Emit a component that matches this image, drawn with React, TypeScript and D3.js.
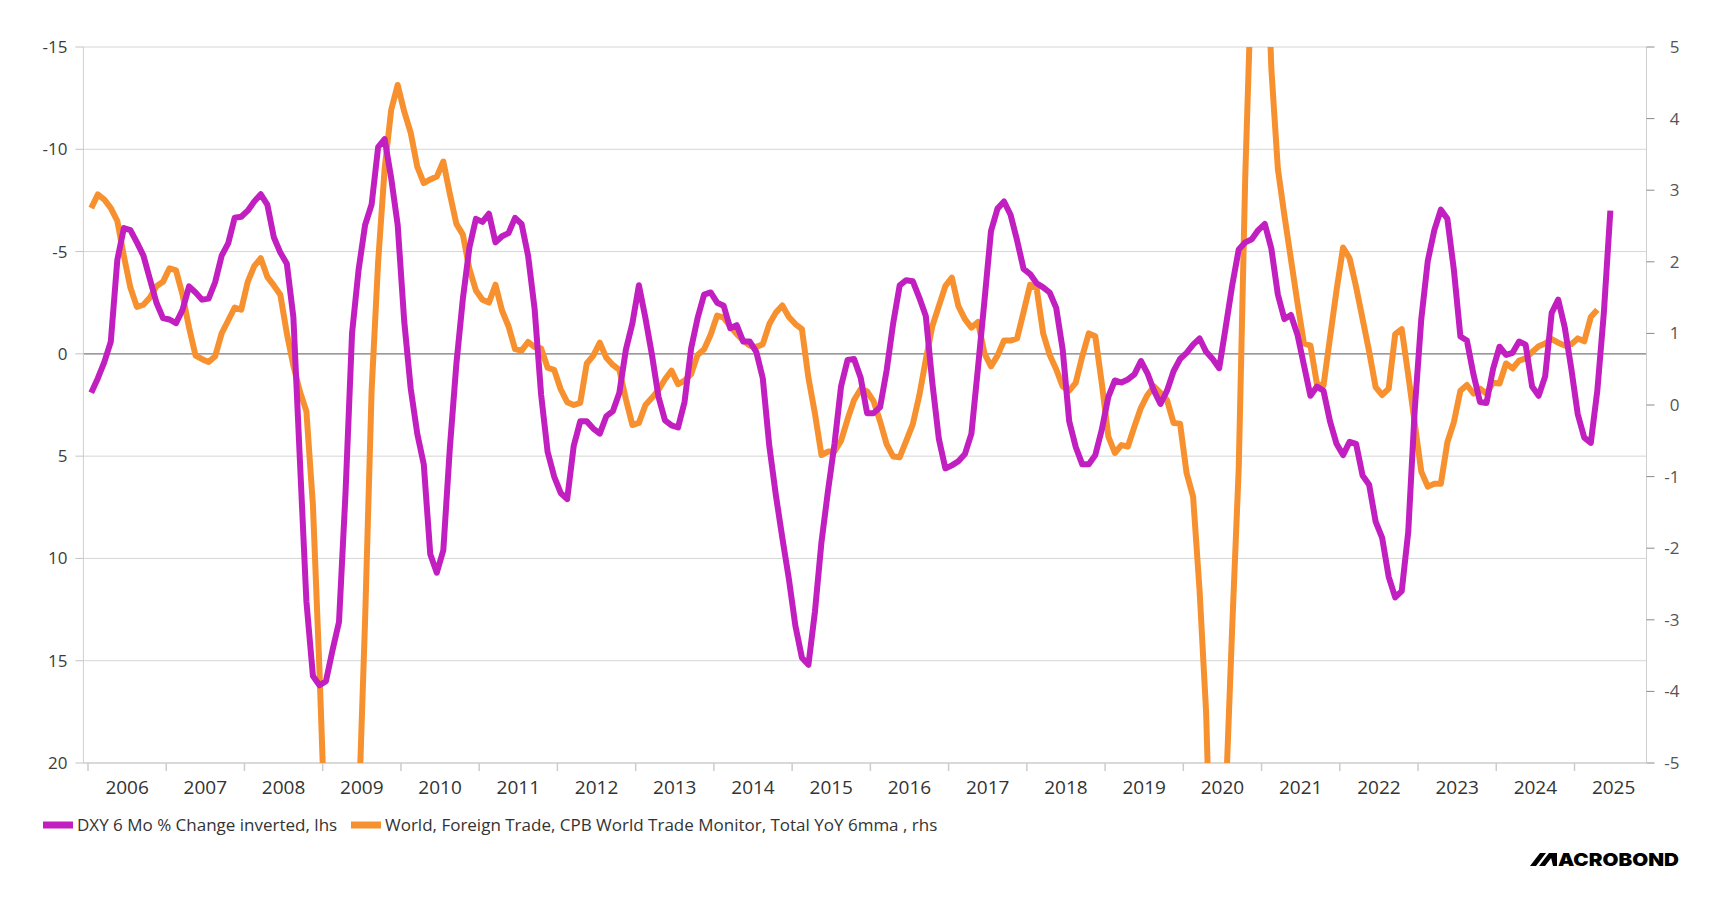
import { useEffect, useRef } from 'react';
import * as d3 from 'd3';

// monthly observations, first value = Jan 2006
const FIRST_YEAR = 2006;

// DXY 6 Mo % Change inverted (lhs, axis reversed)
const dxyChange: number[] = [
  1.9, 1.2, 0.4, -0.6, -4.6, -6.15, -6.05, -5.45, -4.8, -3.65, -2.5, -1.75,
  -1.68, -1.5, -2.15, -3.3, -3.0, -2.65, -2.7, -3.5, -4.8, -5.4, -6.65, -6.7,
  -7.0, -7.45, -7.8, -7.3, -5.7, -4.95, -4.4, -1.8, 5.2, 12.1, 15.75, 16.2,
  16.0, 14.5, 13.1, 6.8, -1.0, -4.1, -6.3, -7.3, -10.1, -10.5, -8.6, -6.3,
  -1.6, 1.7, 3.9, 5.4, 9.8, 10.7, 9.6, 4.6, 0.5, -2.7, -5.2, -6.6,
  -6.45, -6.85, -5.45, -5.75, -5.9, -6.65, -6.35, -4.8, -2.2, 2.0, 4.8, 6.0,
  6.8, 7.1, 4.5, 3.3, 3.3, 3.65, 3.9, 3.05, 2.8, 1.9, -0.2, -1.5,
  -3.35, -1.75, 0.05, 2.1, 3.25, 3.5, 3.6, 2.35, -0.25, -1.75, -2.9, -3.0,
  -2.5, -2.35, -1.25, -1.4, -0.6, -0.6, -0.1, 1.2, 4.5, 6.9, 9.0, 11.0,
  13.3, 14.85, 15.2, 12.6, 9.2, 6.7, 4.4, 1.6, 0.3, 0.25, 1.15, 2.9,
  2.9, 2.6, 0.8, -1.5, -3.35, -3.6, -3.55, -2.75, -1.85, 1.4, 4.15, 5.6,
  5.45, 5.25, 4.9, 3.9, 0.7, -2.6, -6.0, -7.1, -7.45, -6.8, -5.55, -4.15,
  -3.9, -3.45, -3.25, -3.0, -2.25, -0.2, 3.3, 4.55, 5.4, 5.4, 4.95, 3.7,
  2.1, 1.3, 1.4, 1.25, 1.0, 0.35, 0.95, 1.8, 2.45, 1.8, 0.85, 0.25,
  -0.05, -0.45, -0.75, -0.1, 0.25, 0.7, -1.3, -3.35, -5.1, -5.45, -5.6, -6.05,
  -6.35, -5.15, -2.9, -1.7, -1.9, -0.95, 0.55, 2.05, 1.6, 1.8, 3.3, 4.4,
  4.95, 4.3, 4.4, 5.95, 6.4, 8.2, 9.0, 10.9, 11.9, 11.6, 8.7, 2.7,
  -1.7, -4.55, -6.05, -7.05, -6.6, -4.1, -0.85, -0.65, 1.0, 2.35, 2.4, 0.75,
  -0.35, 0.05, -0.05, -0.6, -0.45, 1.6, 2.05, 1.1, -2.0, -2.65, -1.3, 0.7,
  2.95, 4.1, 4.35, 1.8, -2.0, -7.0,
];

// World, Foreign Trade, CPB World Trade Monitor, Total YoY 6mma (rhs)
const worldTrade: number[] = [
  2.75, 2.94, 2.87, 2.75, 2.57, 2.08, 1.64, 1.37, 1.4, 1.5, 1.66, 1.72,
  1.91, 1.88, 1.54, 1.08, 0.69, 0.64, 0.6, 0.68, 1.0, 1.18, 1.36, 1.33,
  1.72, 1.94, 2.05, 1.79, 1.67, 1.54, 1.0, 0.55, 0.19, -0.09, -1.4, -3.7,
  -6.3, -8.5, -10.0, -9.5, -7.5, -5.75, -3.0, 0.2, 2.0, 3.3, 4.12, 4.47,
  4.1, 3.8, 3.33, 3.1, 3.15, 3.19, 3.4, 2.95, 2.53, 2.38, 1.9, 1.6,
  1.47, 1.43, 1.68, 1.32, 1.1, 0.78, 0.76, 0.88, 0.81, 0.79, 0.52, 0.49,
  0.22, 0.04, 0.0, 0.03, 0.58, 0.69, 0.87, 0.66, 0.56, 0.49, 0.08, -0.28,
  -0.25, 0.0, 0.1, 0.21, 0.36, 0.48, 0.29, 0.34, 0.43, 0.7, 0.78, 0.98,
  1.25, 1.22, 1.1, 0.99, 0.9, 0.83, 0.81, 0.85, 1.13, 1.29, 1.39, 1.23,
  1.13, 1.06, 0.38, -0.12, -0.7, -0.65, -0.65, -0.5, -0.2, 0.07, 0.22, 0.19,
  0.05, -0.23, -0.55, -0.72, -0.73, -0.5, -0.27, 0.13, 0.63, 1.1, 1.38, 1.66,
  1.78, 1.38, 1.2, 1.08, 1.16, 0.72, 0.54, 0.69, 0.9, 0.9, 0.93, 1.3,
  1.68, 1.63, 1.0, 0.7, 0.5, 0.26, 0.2, 0.31, 0.68, 1.0, 0.96, 0.3,
  -0.44, -0.67, -0.56, -0.58, -0.3, -0.04, 0.14, 0.26, 0.17, 0.07, -0.25, -0.26,
  -0.95, -1.28, -2.6, -4.3, -7.5, -8.0, -5.5, -3.1, -0.88, 3.2, 6.1, 8.5,
  7.3, 4.7, 3.3, 2.65, 2.04, 1.43, 0.86, 0.83, 0.29, 0.27, 0.94, 1.6,
  2.2, 2.05, 1.65, 1.2, 0.75, 0.25, 0.14, 0.23, 0.99, 1.06, 0.42, -0.26,
  -0.93, -1.14, -1.1, -1.1, -0.52, -0.24, 0.2, 0.28, 0.16, 0.23, 0.16, 0.31,
  0.3, 0.58, 0.51, 0.62, 0.65, 0.74, 0.82, 0.86, 0.92, 0.87, 0.83, 0.85,
  0.93, 0.89, 1.23, 1.33,
];

const leftTicks = [-15, -10, -5, 0, 5, 10, 15, 20];
const rightTicks = [5, 4, 3, 2, 1, 0, -1, -2, -3, -4, -5];
const years = d3.range(2006, 2026);

const SERIES = [
  { name: 'DXY 6 Mo % Change inverted, lhs', color: '#c21fc1' },
  { name: 'World, Foreign Trade, CPB World Trade Monitor, Total YoY 6mma , rhs', color: '#f7912f' },
];

const W = 1719;
const H = 913;
const FONT = "'Open Sans', 'Noto Sans', sans-serif";

export default function App() {
  const svgRef = useRef<SVGSVGElement>(null);

  useEffect(() => {
    if (!svgRef.current) return;
    const svg = d3.select(svgRef.current);
    svg.selectAll('*').remove();

    const plot = { left: 83.4, right: 1646.5, top: 47, bottom: 763 };

    // ── Scales ──────────────────────────────────────────────
    const x = d3.scaleLinear()
      .domain([2006 - 4.6 / 78.24, 2025 + 72 / 78.24])
      .range([plot.left, plot.right]);
    const yL = d3.scaleLinear().domain([-15, 20]).range([plot.top, plot.bottom]);
    const yR = d3.scaleLinear().domain([5, -5]).range([plot.top, plot.bottom]);

    const monthX = (i: number) => x(FIRST_YEAR + (i + 0.5) / 12);

    svg.append('rect').attr('width', W).attr('height', H).attr('fill', '#ffffff');

    svg.append('defs').append('clipPath').attr('id', 'plot-clip')
      .append('rect')
      .attr('x', plot.left).attr('y', plot.top)
      .attr('width', plot.right - plot.left).attr('height', plot.bottom - plot.top);

    // ── Grid ────────────────────────────────────────────────
    svg.append('g').selectAll('line')
      .data(leftTicks.filter(t => t !== 20))
      .join('line')
      .attr('x1', plot.left).attr('x2', plot.right)
      .attr('y1', d => yL(d)).attr('y2', d => yL(d))
      .attr('stroke', d => (d === 0 ? '#7a7a7a' : '#d6d6d6'))
      .attr('stroke-width', d => (d === 0 ? 1.3 : 1));

    // ── Left axis ───────────────────────────────────────────
    const gl = svg.append('g');
    gl.append('line')
      .attr('x1', plot.left).attr('x2', plot.left)
      .attr('y1', plot.top).attr('y2', plot.bottom)
      .attr('stroke', '#cfcfcf');
    gl.selectAll('line.tick').data(leftTicks).join('line').attr('class', 'tick')
      .attr('x1', plot.left - 8).attr('x2', plot.left)
      .attr('y1', d => yL(d)).attr('y2', d => yL(d))
      .attr('stroke', '#c4c4c4');
    gl.selectAll('text').data(leftTicks).join('text')
      .attr('x', plot.left - 16).attr('y', d => yL(d) + 6)
      .attr('text-anchor', 'end')
      .attr('font-family', FONT).attr('font-size', 17).attr('fill', '#3c3c3c')
      .text(d => String(d));

    // ── Right axis ──────────────────────────────────────────
    const gr = svg.append('g');
    gr.append('line')
      .attr('x1', plot.right).attr('x2', plot.right)
      .attr('y1', plot.top).attr('y2', plot.bottom)
      .attr('stroke', '#cfcfcf');
    gr.selectAll('line.tick').data(rightTicks).join('line').attr('class', 'tick')
      .attr('x1', plot.right).attr('x2', plot.right + 8)
      .attr('y1', d => yR(d)).attr('y2', d => yR(d))
      .attr('stroke', '#8a8a8a');
    gr.selectAll('text').data(rightTicks).join('text')
      .attr('x', plot.right + 33).attr('y', d => yR(d) + 6)
      .attr('text-anchor', 'end')
      .attr('font-family', FONT).attr('font-size', 17).attr('fill', '#555555')
      .text(d => String(d));

    // ── Bottom axis ─────────────────────────────────────────
    const gb = svg.append('g');
    gb.append('line')
      .attr('x1', plot.left).attr('x2', plot.right)
      .attr('y1', plot.bottom).attr('y2', plot.bottom)
      .attr('stroke', '#cccccc').attr('stroke-width', 1.5);
    gb.selectAll('line.tick').data(years).join('line').attr('class', 'tick')
      .attr('x1', d => x(d)).attr('x2', d => x(d))
      .attr('y1', plot.bottom).attr('y2', plot.bottom + 8)
      .attr('stroke', '#cccccc').attr('stroke-width', 1.5);
    gb.selectAll('text').data(years).join('text')
      .attr('x', d => x(d + 0.5)).attr('y', plot.bottom + 31)
      .attr('text-anchor', 'middle')
      .attr('font-family', FONT).attr('font-size', 19).attr('fill', '#333333')
      .text(d => String(d));

    // ── Lines ───────────────────────────────────────────────
    const lines = svg.append('g').attr('clip-path', 'url(#plot-clip)');

    const tradeLine = d3.line<number>()
      .x((_, i) => monthX(i))
      .y(d => yR(d));
    const dxyLine = d3.line<number>()
      .x((_, i) => monthX(i))
      .y(d => yL(d));

    lines.append('path').datum(worldTrade)
      .attr('fill', 'none').attr('stroke', SERIES[1].color)
      .attr('stroke-width', 6).attr('stroke-linejoin', 'round')
      .attr('d', tradeLine);

    lines.append('path').datum(dxyChange)
      .attr('fill', 'none').attr('stroke', SERIES[0].color)
      .attr('stroke-width', 6).attr('stroke-linejoin', 'round')
      .attr('d', dxyLine);

    // ── Legend ──────────────────────────────────────────────
    const legY = 825;
    const leg = svg.append('g');
    const legendX = [43, 351];
    SERIES.forEach((s, i) => {
      leg.append('rect')
        .attr('x', legendX[i]).attr('y', legY - 3.5)
        .attr('width', 30).attr('height', 7).attr('fill', s.color);
      leg.append('text')
        .attr('x', legendX[i] + 34).attr('y', legY + 6)
        .attr('font-family', FONT).attr('font-size', 17).attr('fill', '#333333')
        .text(s.name);
    });

    // ── Logo ────────────────────────────────────────────────
    const logo = svg.append('g');
    const lx = 1530, ly = 853, lh = 13;
    logo.append('path')
      .attr('d', `M${lx},${ly + lh} L${lx + 10},${ly} L${lx + 16},${ly} L${lx + 6},${ly + lh} Z
                  M${lx + 9},${ly + lh} L${lx + 19},${ly} L${lx + 25},${ly} L${lx + 15},${ly + lh} Z
                  M${lx + 20},${ly} L${lx + 27},${ly} L${lx + 27},${ly + lh} L${lx + 23},${ly + lh} Z`)
      .attr('fill', '#000');
    logo.append('text')
      .attr('x', lx + 28).attr('y', ly + lh)
      .attr('font-family', "Inter, Roboto, sans-serif").attr('font-weight', 900)
      .attr('font-size', 18).attr('fill', '#000')
      .attr('textLength', 121).attr('lengthAdjust', 'spacingAndGlyphs')
      .text('ACROBOND');
  }, []);

  return (
    <div style={{ position: 'absolute', left: 0, top: 0, width: W, height: H, background: '#fff' }}>
      <svg ref={svgRef} width={W} height={H} style={{ display: 'block' }} />
    </div>
  );
}
